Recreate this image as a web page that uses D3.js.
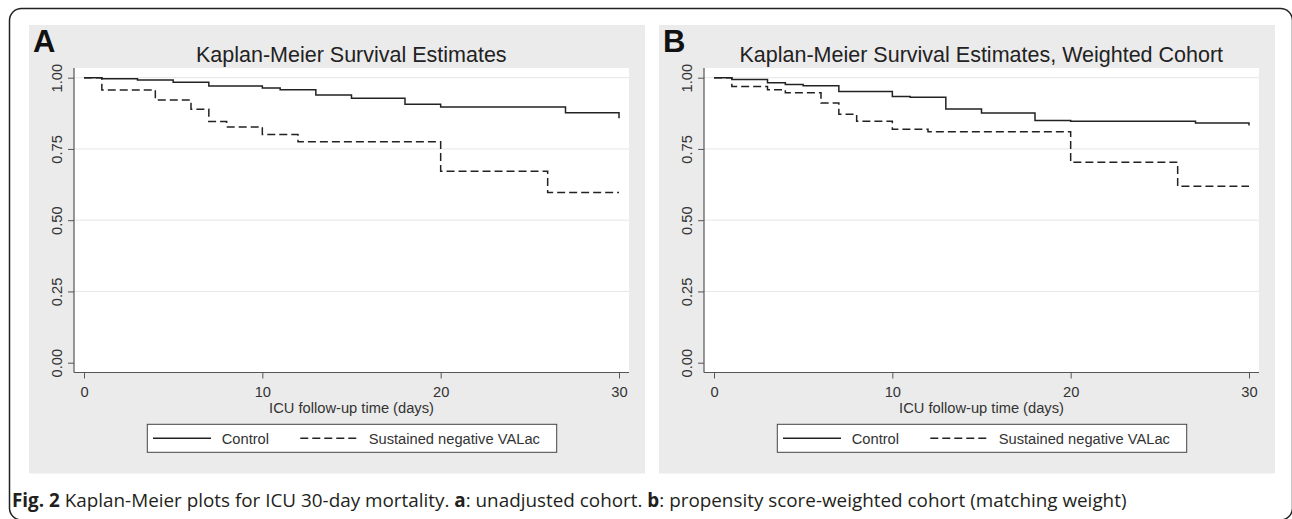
<!DOCTYPE html>
<html><head><meta charset="utf-8">
<script src="https://cdn.jsdelivr.net/npm/d3@7"></script>
<style>body{margin:0;background:#fff}svg{display:block}</style>
</head><body>
<svg id="c" width="1292" height="519"></svg>
<script>
// ---- data ----
const xTicks = [0, 10, 20, 30];
const yTicks = [0, 0.25, 0.5, 0.75, 1];
const seriesNames = ["Control", "Sustained negative VALac"];
const panelLetters = ["A", "B"];
const panelTitles = ["Kaplan-Meier Survival Estimates", "Kaplan-Meier Survival Estimates, Weighted Cohort"];
const xAxisTitle = "ICU follow-up time (days)";

// Panel A (unadjusted)
const timeA_control = [0, 1, 3, 5, 7, 10, 11, 13, 15, 18, 20, 27, 30];
const survA_control = [1, 0.996, 0.992, 0.984, 0.971, 0.964, 0.958, 0.939, 0.928, 0.907, 0.897, 0.877, 0.858];
const timeA_neg = [0, 1, 4, 6, 7, 8, 10, 12, 20, 26, 30];
const survA_neg = [1, 0.957, 0.922, 0.889, 0.846, 0.827, 0.801, 0.775, 0.672, 0.597, 0.597];

// Panel B (weighted)
const timeB_control = [0, 1, 3, 4, 5, 7, 10, 11, 13, 15, 18, 20, 27, 30];
const survB_control = [1, 0.994, 0.982, 0.976, 0.972, 0.952, 0.934, 0.931, 0.890, 0.876, 0.850, 0.847, 0.841, 0.832];
const timeB_neg = [0, 1, 3, 4, 6, 7, 8, 10, 12, 20, 26, 30];
const survB_neg = [1, 0.969, 0.958, 0.947, 0.911, 0.872, 0.847, 0.819, 0.810, 0.703, 0.619, 0.619];

// ---- drawing ----
const svg = d3.select("#c");
const FONT = "'Liberation Sans', Arial, Helvetica, sans-serif";
const INK = "#222";

svg.append("rect").attr("x", 9.5).attr("y", 8.5).attr("width", 1283).attr("height", 511.5)
  .attr("rx", 12).attr("fill", "none").attr("stroke", "#222").attr("stroke-width", 1.5);

function panel(idx, dx, series) {
  const g = svg.append("g").attr("transform", `translate(${dx},0)`);
  g.append("rect").attr("x", 29).attr("y", 25).attr("width", 616).attr("height", 448.5).attr("fill", "#ebebeb");
  const L = 74, R = 629, T = 68, B = 372.5;
  g.append("rect").attr("x", L).attr("y", T).attr("width", R - L).attr("height", B - T).attr("fill", "#fff");

  const x = d3.scaleLinear().domain([0, 30]).range([84, 619]);
  const y = d3.scaleLinear().domain([0, 1]).range([362.7, 77.7]);

  // grid
  g.append("g").selectAll("line").data(yTicks.filter(d => d > 0)).join("line")
    .attr("x1", L).attr("x2", R).attr("y1", d => y(d)).attr("y2", d => y(d))
    .attr("stroke", "#e6e6e6").attr("stroke-width", 1);

  // curves
  const line = d3.line().x(d => x(d[0])).y(d => y(d[1])).curve(d3.curveStepAfter);
  series.forEach((s, k) => {
    g.append("path").datum(d3.zip(s.t, s.s)).attr("d", line)
      .attr("fill", "none").attr("stroke", INK).attr("stroke-width", 1.5)
      .attr("stroke-dasharray", k === 1 ? "8,4" : null);
  });

  // axes
  const yAx = g.append("g").attr("transform", `translate(${L},0)`)
    .call(d3.axisLeft(y).tickValues(yTicks).tickFormat(d3.format(".2f")).tickSize(6));
  yAx.select(".domain").remove();
  yAx.selectAll("line").attr("stroke", "#555");
  yAx.selectAll("text").attr("x", 0).attr("dy", 0).attr("text-anchor", "middle")
    .attr("transform", "translate(-12,0) rotate(-90)")
    .attr("fill", "#333").style("font", `14.7px ${FONT}`);

  const xAx = g.append("g").attr("transform", `translate(0,${B})`)
    .call(d3.axisBottom(x).tickValues(xTicks).tickSize(6));
  xAx.select(".domain").remove();
  xAx.selectAll("line").attr("stroke", "#555");
  xAx.selectAll("text").attr("y", 24.3).attr("dy", 0).attr("fill", "#333").style("font", `14.7px ${FONT}`);

  g.append("line").attr("x1", L).attr("x2", L).attr("y1", T).attr("y2", B).attr("stroke", "#555").attr("stroke-width", 1.2);
  g.append("line").attr("x1", L).attr("x2", R).attr("y1", B).attr("y2", B).attr("stroke", "#555").attr("stroke-width", 1.2);

  g.append("text").attr("x", (L + R) / 2).attr("y", 412.7).attr("text-anchor", "middle")
    .attr("fill", "#333").style("font", `14.7px ${FONT}`).text(xAxisTitle);

  // title and letter
  g.append("text").attr("x", 351.3).attr("y", 61.7).attr("text-anchor", "middle")
    .attr("fill", INK).style("font", `21.5px ${FONT}`).text(panelTitles[idx]);
  g.append("text").attr("x", 33).attr("y", 52.3)
    .attr("fill", "#111").style("font", `bold 31px ${FONT}`).text(panelLetters[idx]);

  // legend
  const lg = g.append("g");
  lg.append("rect").attr("x", 147.3).attr("y", 424.3).attr("width", 409.4).attr("height", 28)
    .attr("fill", "#fff").attr("stroke", "#444").attr("stroke-width", 1);
  const keys = [{x1: 153, x2: 211, tx: 221.7}, {x1: 300.3, x2: 358, tx: 368.7}];
  keys.forEach((k, i) => {
    lg.append("line").attr("x1", k.x1).attr("x2", k.x2).attr("y1", 438.3).attr("y2", 438.3)
      .attr("stroke", INK).attr("stroke-width", 1.5).attr("stroke-dasharray", i === 1 ? "8,4" : null);
    lg.append("text").attr("x", k.tx).attr("y", 443.6).attr("fill", "#333")
      .style("font", `14.7px ${FONT}`).text(seriesNames[i]);
  });
}

panel(0, 0, [{t: timeA_control, s: survA_control}, {t: timeA_neg, s: survA_neg}]);
panel(1, 630, [{t: timeB_control, s: survB_control}, {t: timeB_neg, s: survB_neg}]);

// caption
const cap = svg.append("text").attr("x", 12).attr("y", 506.7).attr("fill", "#231f20")
  .style("font-family", "'Open Sans', 'Noto Sans', sans-serif").style("font-size", "18px");
const parts = [["Fig. 2", true], [" Kaplan-Meier plots for ICU 30-day mortality. ", false], ["a", true],
  [": unadjusted cohort. ", false], ["b", true], [": propensity score-weighted cohort (matching weight)", false]];
parts.forEach(p => cap.append("tspan").attr("font-weight", p[1] ? "bold" : "normal").text(p[0]));
const w = cap.node().getComputedTextLength();
cap.style("font-size", (18 * 1115 / w).toFixed(2) + "px");
</script>
</body></html>
